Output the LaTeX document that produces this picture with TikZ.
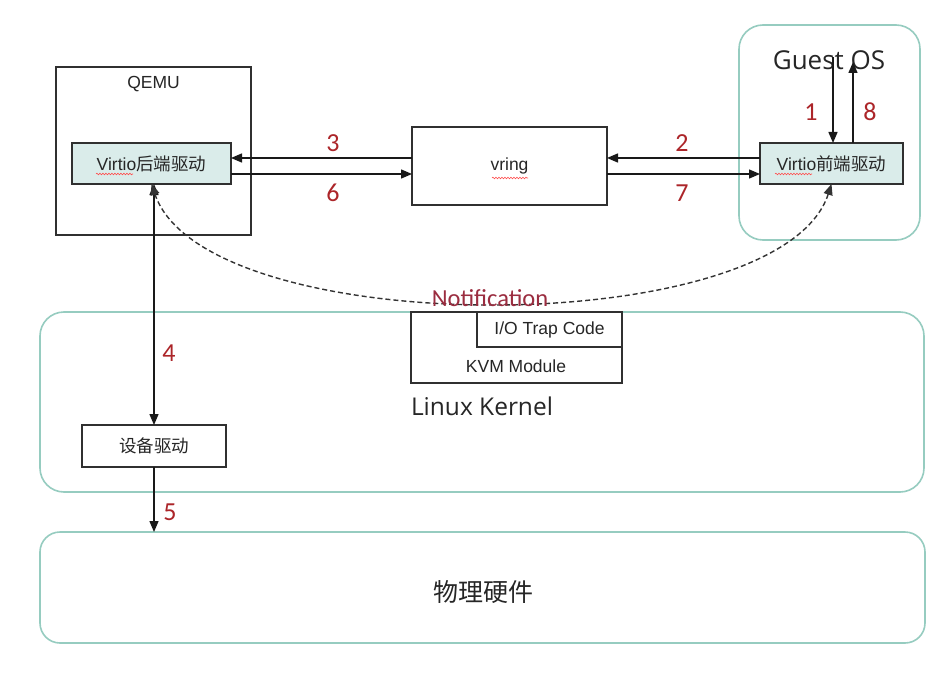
\documentclass[tikz,border=0pt]{standalone}
\usepackage{fontspec}
\setmainfont{Liberation Sans}
\newfontfamily\cjk{Noto Sans CJK SC}
\newfontfamily\osans{Open Sans}
\newfontfamily\calib{Carlito}
\usetikzlibrary{arrows.meta,decorations.pathmorphing}
\definecolor{tealb}{HTML}{96CCC0}
\definecolor{fillb}{HTML}{DAECEA}
\definecolor{numred}{HTML}{AC2529}
\definecolor{notred}{HTML}{9B2D40}
\definecolor{edgec}{HTML}{303030}
\begin{document}
\begin{tikzpicture}[x=1pt,y=-1pt,
  box/.style={draw=edgec,line width=1.5pt,rectangle,inner sep=0pt,outer sep=0pt,fill=white},
  vbox/.style={box,fill=fillb},
  tbox/.style={draw=tealb,line width=1.6pt,rectangle,rounded corners=24pt,inner sep=0pt,outer sep=0pt,fill=white},
  txt/.style={inner sep=0pt,font=\fontsize{17.5}{20}\selectfont,text=black!85},
  arr/.style={-{Triangle[length=11pt,width=9pt]},line width=1.4pt,draw=black!90},
  darr/.style={{Triangle[length=11pt,width=9pt]}-{Triangle[length=11pt,width=9pt]},line width=1.4pt,draw=black!90},
  num/.style={text=numred,font=\calib\fontsize{26}{28}\selectfont,inner sep=0pt},
  squig/.style={draw=red!70,line width=0.6pt,decorate,decoration={snake,amplitude=0.8pt,segment length=3pt}},
]
\useasboundingbox (0,0) rectangle (952,687);
\fill[white] (0,0) rectangle (952,687);

% containers
\node[tbox,minimum width=884pt,minimum height=180pt] (kernel) at (482,402) {};
\node[tbox,minimum width=885pt,minimum height=111pt,rounded corners=20pt] (hw) at (482.5,587.5) {};
\node[tbox,minimum width=181pt,minimum height=215pt] (guest) at (829.5,132.5) {};
\node[box,minimum width=195pt,minimum height=168pt] (qemu) at (153.5,151) {};

% labels of containers
\node[txt] (qemulabel) at (153.5,84) {QEMU};
\node[inner sep=0pt,font=\osans\fontsize{26}{29}\selectfont,text=black!85] (guestlabel) at (829,60) {Guest OS};
\node[inner sep=0pt,font=\osans\fontsize{24.5}{27}\selectfont,text=black!85] (kernellabel) at (482,406) {Linux Kernel};
\node[inner sep=0pt,font=\cjk\fontsize{25}{28}\selectfont,text=black!85] (hwlabel) at (483,592) {物理硬件};

% inner boxes
\node[box,minimum width=211pt,minimum height=71pt] (kvm) at (516.5,347.5) {};
\node[txt] (kvmlabel) at (516,366) {KVM Module};
\node[box,minimum width=145pt,minimum height=35pt,txt] (trap) at (549.5,329.5) {I/O Trap Code};
\node[vbox,minimum width=159pt,minimum height=41pt,txt] (back) at (151.5,163.5) {Virtio{\cjk 后端驱动}};
\node[vbox,minimum width=143pt,minimum height=41pt,txt] (front) at (831.5,163.5) {Virtio{\cjk 前端驱动}};
\node[box,minimum width=195pt,minimum height=78pt,txt] (vring) at (509.5,166) {vring};
\node[box,minimum width=144pt,minimum height=42pt,txt,font=\cjk\fontsize{17.5}{20}\selectfont] (dev) at (154,446) {设备驱动};

% spell-check squiggles
\draw[squig] (96,174) -- (133,174);
\draw[squig] (492,178) -- (528,178);
\draw[squig] (775,174) -- (812,174);

% connectors vring
\draw[arr] (vring.west |- 0,158) -- (back.east |- 0,158);
\draw[arr] (back.east |- 0,174) -- (vring.west |- 0,174);
\draw[arr] (front.west |- 0,158) -- (vring.east |- 0,158);
\draw[arr] (vring.east |- 0,174) -- (front.west |- 0,174);

% guest arrows
\coordinate (c1) at (833,57);
\coordinate (c8) at (853,62);
\draw[arr] (c1) -- (c1 |- front.north);
\draw[arr] (c8 |- front.north) -- (c8);

% device path
\draw[darr] (back.south -| dev.north) -- (dev.north);
\draw[arr] (dev.south) -- (dev.south |- hw.north);

% notification
\draw[darr,line width=1.4pt,draw=black!80,dash pattern=on 5pt off 3pt] (back.south) .. controls (205,342) and (780,342) .. (front.south);
\node[inner sep=0pt,font=\calib\fontsize{24.5}{26}\selectfont,text=notred] (notif) at (490,298) {Notification};

% numbers
\node[num] (n3) at (333,143) {3};
\node[num] (n6) at (333,193) {6};
\node[num] (n2) at (682,143) {2};
\node[num] (n7) at (682,193) {7};
\node[num] (n1) at (811,112) {1};
\node[num] (n8) at (870,112) {8};
\node[num] (n4) at (169,353) {4};
\node[num] (n5) at (170,512) {5};
\end{tikzpicture}
\end{document}
